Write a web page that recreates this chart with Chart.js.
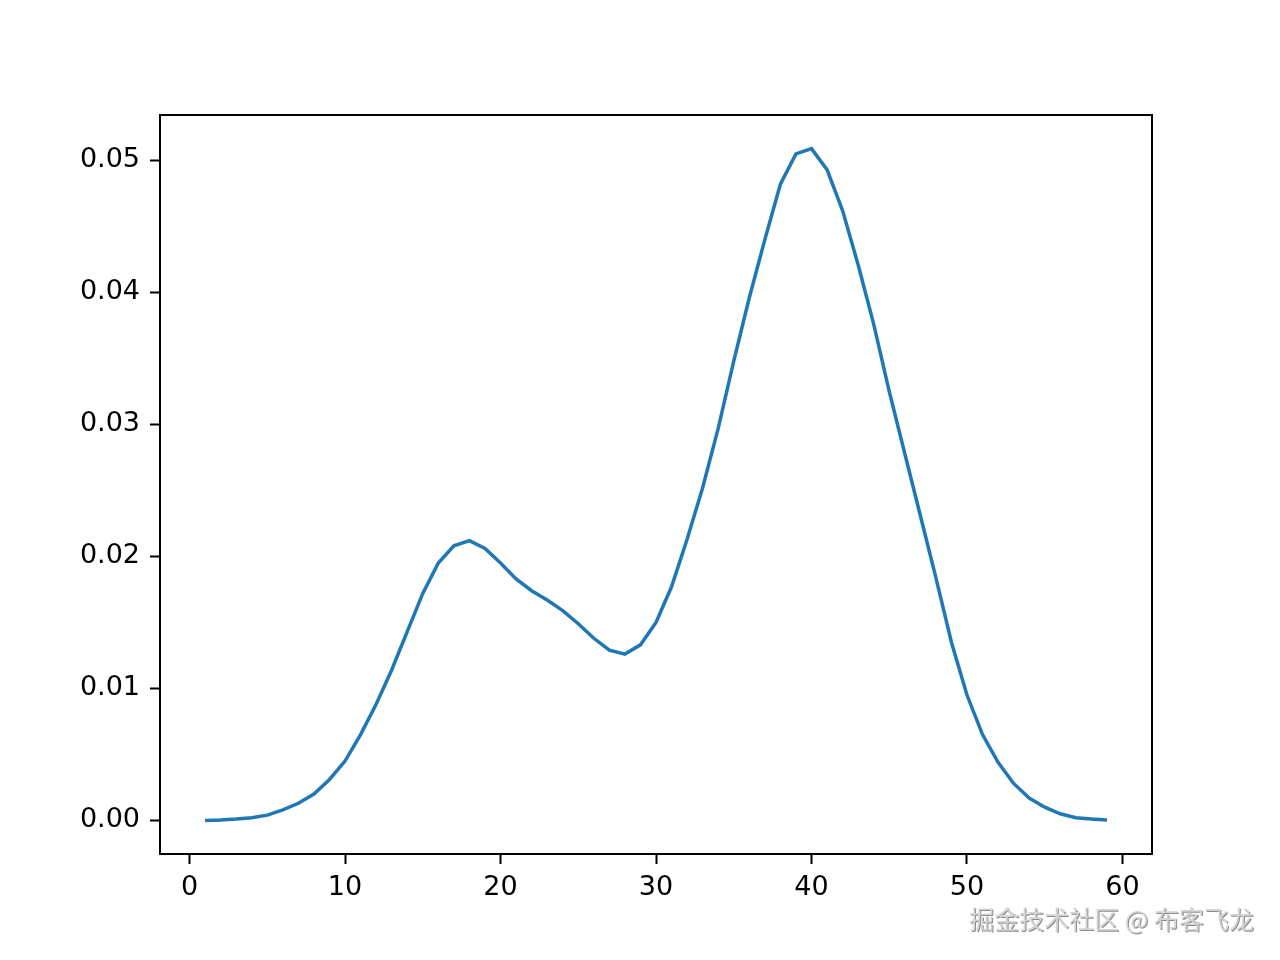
<!DOCTYPE html>
<html>
<head>
<meta charset="utf-8">
<script src="https://cdn.jsdelivr.net/npm/chart.js@4/dist/chart.umd.min.js"></script>
<style>
  html, body { margin: 0; padding: 0; background: #fff; }
  #wrap { width: 1280px; height: 960px; }
</style>
</head>
<body>
<div id="wrap"><canvas id="chart" width="1280" height="960"></canvas></div>
<script>
// x positions 1..59 and the curve values
const xValues = [
  1, 2, 3, 4, 5, 6, 7, 8, 9, 10,
  11, 12, 13, 14, 15, 16, 17, 18, 19, 20,
  21, 22, 23, 24, 25, 26, 27, 28, 29, 30,
  31, 32, 33, 34, 35, 36, 37, 38, 39, 40,
  41, 42, 43, 44, 45, 46, 47, 48, 49, 50,
  51, 52, 53, 54, 55, 56, 57, 58, 59
];
const yValues = [
  0.0000, 0.00003, 0.0001, 0.0002, 0.0004, 0.0008, 0.0013, 0.0020, 0.0031, 0.0045,
  0.0065, 0.0088, 0.0114, 0.0143, 0.0172, 0.0195, 0.0208, 0.0212, 0.0206, 0.0195,
  0.0183, 0.0174, 0.0167, 0.0159, 0.0149, 0.0138, 0.0129, 0.0126, 0.0133, 0.0150,
  0.0177, 0.0213, 0.0252, 0.0297, 0.0348, 0.0396, 0.0440, 0.0482, 0.0505, 0.0509,
  0.0493, 0.0462, 0.0421, 0.0376, 0.0325, 0.0278, 0.0231, 0.0184, 0.0135, 0.0095,
  0.0065, 0.0044, 0.0028, 0.0017, 0.0010, 0.0005, 0.0002, 0.0001, 0.00003
];
const xTicks = [0, 10, 20, 30, 40, 50, 60];
const yTicks = [0, 0.01, 0.02, 0.03, 0.04, 0.05];
const watermark = '掘金技术社区 @ 布客飞龙';

const points = xValues.map((x, i) => ({ x: x, y: yValues[i] }));

// matplotlib-style 5% margins around the data
const xSpan = Math.max(...xValues) - Math.min(...xValues);
const ySpan = Math.max(...yValues) - Math.min(...yValues);

const frame = {
  id: 'frame',
  afterDraw(chart) {
    const { ctx, chartArea: a } = chart;
    ctx.save();
    ctx.strokeStyle = '#000';
    ctx.lineWidth = 2;
    ctx.strokeRect(a.left, a.top, a.right - a.left, a.bottom - a.top);
    // embossed grey watermark
    ctx.font = '25px "Noto Sans CJK SC", sans-serif';
    ctx.textAlign = 'right';
    ctx.textBaseline = 'alphabetic';
    ctx.fillStyle = '#8c8c8c';
    ctx.fillText(watermark, 1255, 930);
    ctx.fillStyle = '#d4d4d4';
    ctx.fillText(watermark, 1254, 929);
    ctx.restore();
  }
};

const tickFont = { family: '"DejaVu Sans"', size: 27 };

new Chart(document.getElementById('chart'), {
  type: 'line',
  data: {
    datasets: [{
      data: points,
      borderColor: '#1f77b4',
      borderWidth: 3.5,
      pointRadius: 0,
      tension: 0,
      fill: false
    }]
  },
  options: {
    responsive: false,
    animation: false,
    layout: { padding: { top: 115, right: 128, left: 0, bottom: 0 } },
    plugins: { legend: { display: false }, tooltip: { enabled: false } },
    scales: {
      x: {
        type: 'linear',
        min: Math.min(...xValues) - 0.05 * xSpan,
        max: Math.max(...xValues) + 0.05 * xSpan,
        afterBuildTicks: s => { s.ticks = xTicks.map(v => ({ value: v })); },
        afterFit: s => { s.height = 106; },
        grid: { drawOnChartArea: false, drawTicks: true, tickLength: 10, tickColor: '#000', tickWidth: 2 },
        border: { display: false },
        ticks: {
          color: '#000',
          padding: 8,
          maxRotation: 0,
          font: tickFont,
          callback: v => String(v)
        }
      },
      y: {
        type: 'linear',
        min: Math.min(...yValues) - 0.05 * ySpan,
        max: Math.max(...yValues) + 0.05 * ySpan,
        afterBuildTicks: s => { s.ticks = yTicks.map(v => ({ value: v })); },
        afterFit: s => { s.width = 160; },
        grid: { drawOnChartArea: false, drawTicks: true, tickLength: 10, tickColor: '#000', tickWidth: 2 },
        border: { display: false },
        ticks: {
          color: '#000',
          padding: 10,
          font: tickFont,
          callback: v => v.toFixed(2)
        }
      }
    }
  },
  plugins: [frame]
});
</script>
</body>
</html>
